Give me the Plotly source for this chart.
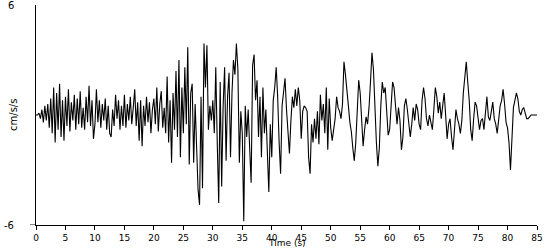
import plotly.graph_objects as go

sample_interval = 0.25  # seconds between samples

accel = [
    # 0-5 s
    0.0, 0.0, 0.1, -0.2, 0.3, -0.4, 0.5, -0.3, 0.6, -0.7,
    0.9, -1.0, 1.5, -1.5, 1.2, -0.8, 1.7, -1.2, 0.8, -1.4,
    # 5-10 s
    1.0, -0.6, 1.4, -0.9, 0.7, -0.3, 1.1, -0.8, 0.9, -0.5,
    1.3, -0.7, 0.4, -0.8, 1.0, -0.4, 1.6, -0.6, 0.8, -1.3,
    # 10-15 s
    -0.5, 1.4, -0.4, 0.8, -0.7, 0.6, -0.3, 0.9, -0.8, 0.5,
    -1.0, -1.2, 0.3, -0.6, 1.1, -0.2, 0.8, -0.8, 0.5, -0.6,
    # 15-20 s
    1.1, -0.7, 0.6, -0.3, 1.0, -0.5, 0.4, 1.4, -0.6, 0.7,
    -1.4, 0.8, -1.7, 0.5, -0.6, 1.0, -0.4, 0.7, -1.0, 0.3,
    # 20-25 s
    0.9, -0.5, 1.5, -0.9, 0.6, 1.3, -0.7, 0.4, -1.0, 2.1,
    -1.5, 0.8, -2.6, 1.2, -0.8, 2.4, -1.2, 3.0, -2.3, 1.5,
    # 25-30 s
    -1.0, 2.6, -0.5, 3.7, -2.7, 1.2, 1.7, -2.6, 0.6, -1.5,
    -4.1, -4.9, 1.0, -4.0, 3.9, 1.5, 3.8, -0.8, 0.5, -0.3,
    # 30-35 s
    0.8, -1.0, 2.6, -1.5, -4.8, 1.8, -3.9, 0.5, 2.6, -2.5,
    1.0, 2.3, -2.3, 1.2, 3.0, 2.2, 3.9, 2.5, -2.6, 0.2,
    # 35-40 s
    -1.0, -5.8, 0.5, -1.2, 0.3, -1.8, -3.7, 2.7, 3.3, 0.8,
    1.9, -1.2, 1.0, -2.3, 1.5, -1.0, 0.3, -2.0, -4.2, -0.5,
    # 40-45 s
    -2.3, 0.8, 1.5, 2.6, 1.0, -1.5, -3.2, 0.5, 1.2, 2.0,
    0.3, -1.0, -2.1, -0.3, 1.0, 0.4, 1.4, 0.5, 1.5, 0.8,
    # 45-50 s
    -1.3, 0.2, 0.5, 0.4, 0.2, -2.3, -3.2, -0.5, -1.5, -0.2,
    -1.3, 0.2, -1.6, 1.1, -0.3, 0.6, -1.0, 1.5, -1.9, 0.9,
    # 50-55 s
    -0.7, -1.4, -0.8, -0.2, 1.0, 0.4, 0.2, -0.2, 0.6, 2.9,
    2.2, 1.5, 0.5, -0.4, -0.9, -1.8, -2.5, -1.5, 0.3, 1.9,
    # 55-60 s
    1.2, -0.6, -1.7, -0.8, -0.1, -0.5, 0.4, 1.8, 3.4, 2.5,
    0.2, -1.5, -2.8, -1.8, 0.5, 1.8, 1.2, 1.5, 0.2, -1.1,
    # 60-65 s
    -0.8, 0.3, 1.8, 1.5, 0.2, -0.5, 0.4, -0.3, -1.9, -1.2,
    0.5, 0.9, 0.3, -0.6, -1.2, -0.5, 0.4, -0.3, 0.6, 0.3,
    # 65-70 s
    -0.5, -0.8, 0.8, 1.5, 0.9, -0.2, -0.6, 0.0, -0.5, -0.8,
    0.3, 1.5, 1.0, 0.1, 0.7, -0.2, 0.5, 1.2, 0.0, -1.3,
    # 70-75 s
    -0.5, -0.2, -1.2, -1.9, -0.8, 0.3, -0.2, -0.5, -1.0, -0.3,
    1.2, 2.2, 2.9, 1.8, 0.8, -0.8, -1.4, -0.2, 0.7, 0.5,
    # 75-80 s
    -0.3, -0.8, -0.3, -0.2, -0.8, 0.3, 1.0, -0.1, -0.3, 0.2,
    0.7, -0.2, -0.5, -1.0, -0.2, 0.5, 0.8, 1.4, 0.6, -0.4,
    # 80-85 s
    -0.7, -1.5, -3.0, -1.0, 0.4, 0.8, 1.2, 0.9, 0.2, 0.0,
    0.3, 0.4, 0.1, -0.2, -0.2, -0.1, 0.0, 0.0, 0.0, 0.0,
    0.0,
]

time_s = [i * sample_interval for i in range(len(accel))]

x_ticks = list(range(0, 90, 5))
y_ticks = [-6, 6]
y_tick_labels = ["-6", "6"]

FONT = "DejaVu Sans"

fig = go.Figure()
fig.add_trace(go.Scatter(
    x=time_s, y=accel, mode="lines",
    line=dict(color="black", width=1.1),
    hoverinfo="skip", showlegend=False,
))

annotations = [dict(
    text="cm/s/s", xref="paper", yref="paper", x=-0.046, y=0.5,
    xanchor="center", yanchor="middle", textangle=-90, showarrow=False,
    font=dict(size=10),
), dict(
    text="Time (s)", xref="paper", yref="paper", x=0.5, y=-25 / 220,
    xanchor="center", yanchor="bottom", showarrow=False,
    font=dict(size=9),
)]
for v, lab in zip(y_ticks, y_tick_labels):
    annotations.append(dict(
        text=lab, xref="paper", yref="y", x=-0.04, y=v,
        xanchor="right", yanchor="middle", showarrow=False,
        font=dict(size=10),
    ))

fig.update_layout(
    width=550, height=250,
    margin=dict(l=36, r=13, t=5, b=25, autoexpand=False),
    paper_bgcolor="white", plot_bgcolor="white",
    font=dict(family=FONT, size=10, color="black"),
    xaxis=dict(
        range=[0, 85], tickvals=x_ticks, ticktext=[str(v) for v in x_ticks],
        showgrid=False, zeroline=False, showline=True, linecolor="black",
        linewidth=1, ticks="outside", ticklen=4, tickcolor="black", tickwidth=1,
        automargin=False, tickfont=dict(size=9),
    ),
    yaxis=dict(
        range=[-6, 6], tickvals=y_ticks, showticklabels=False,
        showgrid=False, zeroline=False, showline=True, linecolor="black",
        linewidth=1, ticks="", automargin=False,
    ),
    shapes=[dict(
        type="line", xref="paper", yref="y", x0=-0.012, x1=0, y0=-6, y1=-6,
        line=dict(color="black", width=1),
    )],
    annotations=annotations,
)

fig.write_html("out.html")
